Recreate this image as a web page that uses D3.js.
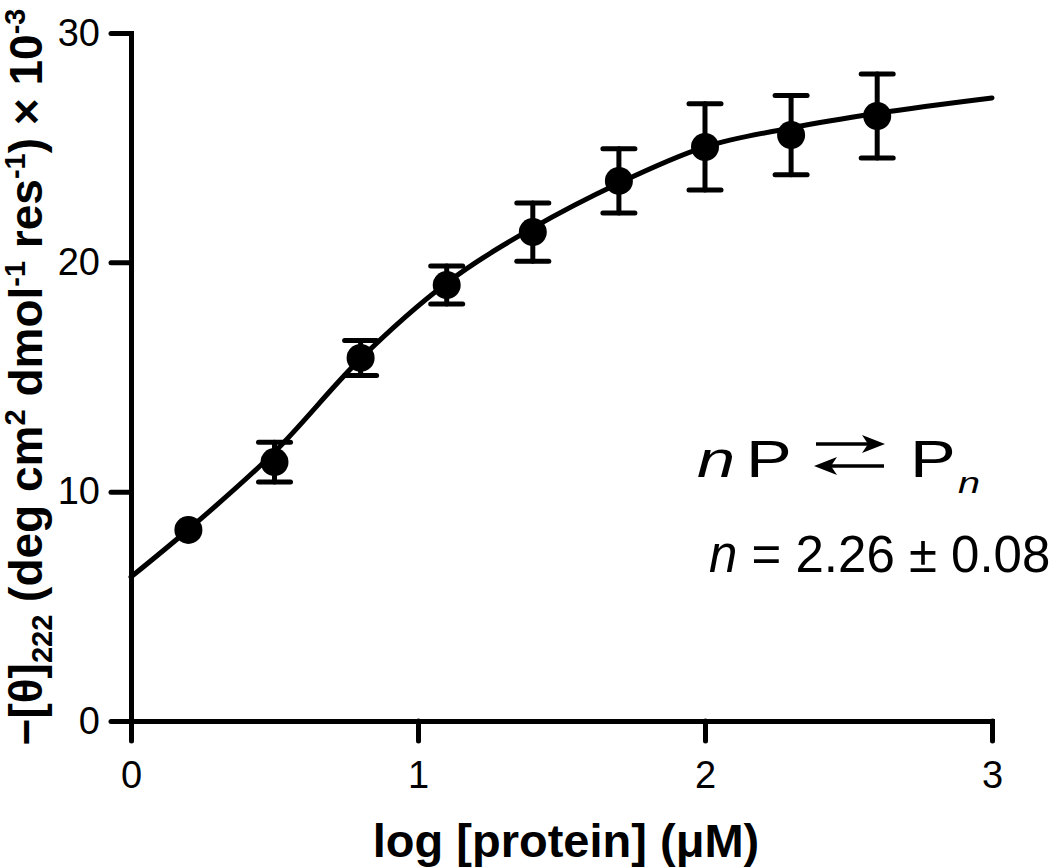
<!DOCTYPE html>
<html>
<head>
<meta charset="utf-8">
<script src="https://cdn.jsdelivr.net/npm/d3@7/dist/d3.min.js"></script>
<style>
    body { margin: 0; background: #fff; }
    svg { display: block; font-family: "Liberation Sans", Arial, sans-serif; }
</style>
</head>
<body>
<svg id="chart"></svg>
<script>
// measured points (log concentration vs -[theta]222 x 10^-3)
var logConc = [0.2, 0.5, 0.8, 1.1, 1.4, 1.7, 2.0, 2.3, 2.6];
var theta = [8.33, 11.29, 15.83, 19.01, 21.32, 23.55, 25.03, 25.55, 26.38];
var thetaErr = [0.3, 0.87, 0.76, 0.83, 1.27, 1.40, 1.88, 1.73, 1.83];

// fitted curve
var fitX = [0, 0.2, 0.5, 0.8, 1.1, 1.4, 1.7, 2.0, 2.3, 2.6, 3.0];
var fitY = [6.28, 8.35, 11.73, 15.8, 19.1, 21.5, 23.45, 25.03, 25.86, 26.5, 27.17];

var xTicks = [0, 1, 2, 3];
var yTicks = [0, 10, 20, 30];

(function() {
    var width = 1050, height = 867;
    var mLeft = 131, mRight = 992, mTop = 33, mBottom = 721;
    var lw = 5, markerR = 14;

    var svg = d3.select("#chart").attr("width", width).attr("height", height);
    svg.append("rect").attr("width", width).attr("height", height).attr("fill", "#fff");

    var x = d3.scaleLinear().domain([0, 3]).range([mLeft, mRight]);
    var y = d3.scaleLinear().domain([0, 30]).range([mBottom, mTop]);

    // axes
    var xAxis = svg.append("g")
        .attr("transform", "translate(0," + mBottom + ")")
        .call(d3.axisBottom(x).tickValues(xTicks).tickFormat(d3.format("d"))
            .tickSize(20).tickSizeOuter(0).tickPadding(20));

    var yAxis = svg.append("g")
        .attr("transform", "translate(" + mLeft + ",0)")
        .call(d3.axisLeft(y).tickValues(yTicks).tickFormat(d3.format("d"))
            .tickSize(20).tickSizeOuter(0).tickPadding(11));

    [xAxis, yAxis].forEach(function(ax) {
        ax.attr("font-size", 38).attr("font-family", "'Liberation Sans', Arial, sans-serif");
        ax.select(".domain").attr("stroke", "#000").attr("stroke-width", lw).attr("stroke-linecap", "square");
        ax.selectAll(".tick line").attr("stroke", "#000").attr("stroke-width", lw).attr("stroke-linecap", "round");
        ax.selectAll(".tick text").attr("fill", "#000");
    });

    // axis titles
    svg.append("text")
        .attr("x", 566).attr("y", 857)
        .attr("text-anchor", "middle")
        .attr("font-size", 47).attr("font-weight", "bold")
        .text("log [protein] (\u03bcM)");

    var yt = svg.append("text")
        .attr("transform", "translate(42," + ((mTop + mBottom) / 2) + ") rotate(-90)")
        .attr("text-anchor", "middle")
        .attr("font-size", 46).attr("font-weight", "bold");

    var parts = [
        ["\u2212[\u03b8]", 0], ["222", 1], [" (deg cm", 0], ["2", -1], [" dmol", 0], ["-1", -1],
        [" res", 0], ["-1", -1], [") \u00d7 10", 0], ["-3", -1]
    ];
    var shift = 0;
    parts.forEach(function(p) {
        var target = p[1] === 1 ? 10 : (p[1] === -1 ? -17 : 0);
        yt.append("tspan")
            .attr("dy", target - shift)
            .attr("font-size", p[1] === 0 ? 46 : 29)
            .text(p[0]);
        shift = target;
    });

    // fitted curve
    var line = d3.line()
        .x(function(d, i) { return x(fitX[i]); })
        .y(function(d) { return y(d); })
        .curve(d3.curveMonotoneX);

    svg.append("path")
        .datum(fitY)
        .attr("d", line)
        .attr("fill", "none")
        .attr("stroke", "#000")
        .attr("stroke-width", lw)
        .attr("stroke-linecap", "round");

    // error bars (hidden when shorter than the symbol, like the original)
    var capW = 16;
    var eb = svg.append("g").attr("stroke", "#000").attr("stroke-width", lw).attr("stroke-linecap", "round");
    logConc.forEach(function(c, i) {
        var hi = y(theta[i] + thetaErr[i]), lo = y(theta[i] - thetaErr[i]);
        if ((lo - hi) / 2 <= markerR) return;
        eb.append("line").attr("x1", x(c)).attr("x2", x(c)).attr("y1", hi).attr("y2", lo);
        eb.append("line").attr("x1", x(c) - capW).attr("x2", x(c) + capW).attr("y1", hi).attr("y2", hi);
        eb.append("line").attr("x1", x(c) - capW).attr("x2", x(c) + capW).attr("y1", lo).attr("y2", lo);
    });

    // markers
    svg.append("g").selectAll("circle")
        .data(logConc)
        .enter()
        .append("circle")
        .attr("cx", function(d) { return x(d); })
        .attr("cy", function(d, i) { return y(theta[i]); })
        .attr("r", markerR)
        .attr("fill", "#000");

    // reaction scheme
    var scheme = svg.append("g").attr("fill", "#000");
    function stretched(txt, px, py, size, italic) {
        scheme.append("text")
            .attr("transform", "translate(" + px + "," + py + ") scale(1.32,1)")
            .attr("font-size", size)
            .attr("font-style", italic ? "italic" : "normal")
            .text(txt);
    }
    stretched("n", 697, 477, 52, true);
    stretched("P", 746, 477, 52, false);
    stretched("P", 910, 477, 52, false);
    stretched("n", 958, 493, 30, true);

    var arrows = scheme.append("g");
    arrows.append("line").attr("x1", 816).attr("x2", 870).attr("y1", 444).attr("y2", 444)
        .attr("stroke", "#000").attr("stroke-width", 3.5);
    arrows.append("path").attr("d", "M885,444 L862,435 L868,444 L862,453 Z");
    arrows.append("line").attr("x1", 830).attr("x2", 884).attr("y1", 466).attr("y2", 466)
        .attr("stroke", "#000").attr("stroke-width", 3.5);
    arrows.append("path").attr("d", "M814,466 L837,457 L831,466 L837,475 Z");

    var nt = svg.append("text")
        .attr("x", 709).attr("y", 572)
        .attr("font-size", 51);
    nt.append("tspan").attr("font-style", "italic").text("n");
    nt.append("tspan").text(" = 2.26 \u00b1 0.08");
})();
</script>
</body>
</html>
